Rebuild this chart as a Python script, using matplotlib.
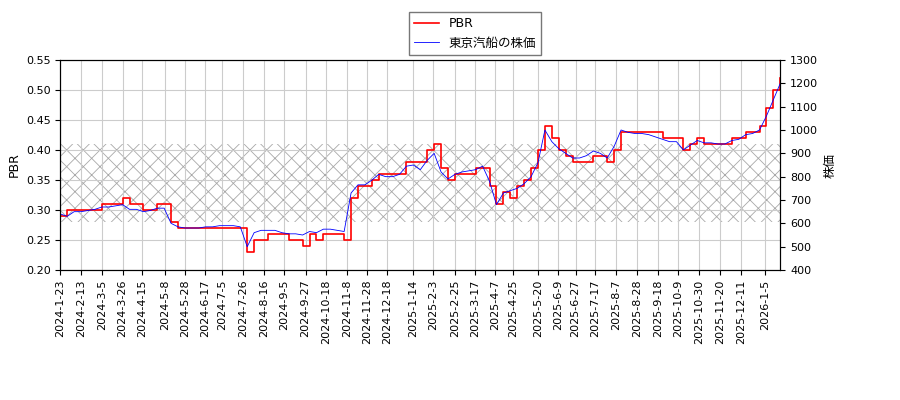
import pandas as pd
import matplotlib.pyplot as plt

plt.rcParams['font.family'] = ['DejaVu Sans', 'Noto Sans CJK JP']

# weekly samples
dates = pd.date_range('2024-01-23', periods=105, freq='7D')
pbr = [0.29, 0.30, 0.30, 0.30, 0.30, 0.30, 0.31, 0.31, 0.31, 0.32,
       0.31, 0.31, 0.30, 0.30, 0.31, 0.31, 0.28, 0.27, 0.27, 0.27,
       0.27, 0.27, 0.27, 0.27, 0.27, 0.27, 0.27, 0.23, 0.25, 0.25,
       0.26, 0.26, 0.26, 0.25, 0.25, 0.24, 0.26, 0.25, 0.26, 0.26,
       0.26, 0.25, 0.32, 0.34, 0.34, 0.35, 0.36, 0.36, 0.36, 0.36,
       0.38, 0.38, 0.38, 0.40, 0.41, 0.37, 0.35, 0.36, 0.36, 0.36,
       0.37, 0.37, 0.34, 0.31, 0.33, 0.32, 0.34, 0.35, 0.37, 0.40,
       0.44, 0.42, 0.40, 0.39, 0.38, 0.38, 0.38, 0.39, 0.39, 0.38,
       0.40, 0.43, 0.43, 0.43, 0.43, 0.43, 0.43, 0.42, 0.42, 0.42,
       0.40, 0.41, 0.42, 0.41, 0.41, 0.41, 0.41, 0.42, 0.42, 0.43,
       0.43, 0.44, 0.47, 0.50, 0.52]
price = [640, 630, 650, 650, 655, 660, 670, 670, 675, 680,
         660, 660, 650, 655, 665, 665, 600, 585, 580, 580,
         580, 585, 585, 590, 590, 590, 585, 500, 560, 570,
         570, 570, 560, 555, 555, 550, 565, 560, 575, 575,
         570, 565, 730, 765, 765, 785, 810, 800, 800, 810,
         845, 850, 830, 870, 900, 820, 790, 810, 820, 825,
         830, 845, 780, 680, 730, 740, 750, 770, 800, 860,
         1000, 950, 920, 900, 880, 880, 890, 910, 900, 880,
         930, 1000, 990, 985, 985, 980, 970, 960, 950, 950,
         915, 935, 955, 945, 945, 940, 940, 955, 960, 980,
         985, 1000, 1060, 1130, 1200]
band_low, band_high = 0.28, 0.41
tick_labels = ['2024-1-23', '2024-2-13', '2024-3-5', '2024-3-26', '2024-4-15',
               '2024-5-8', '2024-5-28', '2024-6-17', '2024-7-5', '2024-7-26',
               '2024-8-16', '2024-9-5', '2024-9-27', '2024-10-18', '2024-11-8',
               '2024-11-28', '2024-12-18', '2025-1-14', '2025-2-3', '2025-2-25',
               '2025-3-17', '2025-4-7', '2025-4-25', '2025-5-20', '2025-6-9',
               '2025-6-27', '2025-7-17', '2025-8-7', '2025-8-28', '2025-9-18',
               '2025-10-9', '2025-10-30', '2025-11-20', '2025-12-11', '2026-1-5']

fig, ax = plt.subplots(figsize=(9, 4), dpi=100)
fig.subplots_adjust(left=0.067, right=0.867, top=0.85, bottom=0.325)

plt.rcParams['hatch.linewidth'] = 0.6
ax.axhspan(band_low, band_high, facecolor='none', edgecolor='#a8a8a8', hatch='xx', linewidth=0)
l1, = ax.plot(dates, pbr, color='red', drawstyle='steps-post', linewidth=1.2, label='PBR')
ax.set_ylim(0.2, 0.55)
ax.set_ylabel('PBR', fontsize=9)
ax.grid(True, color='#cccccc')

ax2 = ax.twinx()
l2, = ax2.plot(dates, price, color='blue', linewidth=0.6, label='東京汽船の株価')
ax2.set_ylim(400, 1300)
ax2.set_ylabel('株価', fontsize=9)

ticks = pd.to_datetime(tick_labels)
ax.set_xticks(ticks)
ax.set_xticklabels(tick_labels, rotation=90)
ax.set_xlim(pd.Timestamp('2024-01-23'), pd.Timestamp('2026-01-20'))
ax.tick_params(labelsize=8)
ax2.tick_params(labelsize=8)

fig.legend([l1, l2], ['PBR', '東京汽船の株価'], loc='upper center',
           bbox_to_anchor=(0.528, 0.985), fontsize=9, fancybox=False, edgecolor='#555555')
fig.savefig('out.png')
